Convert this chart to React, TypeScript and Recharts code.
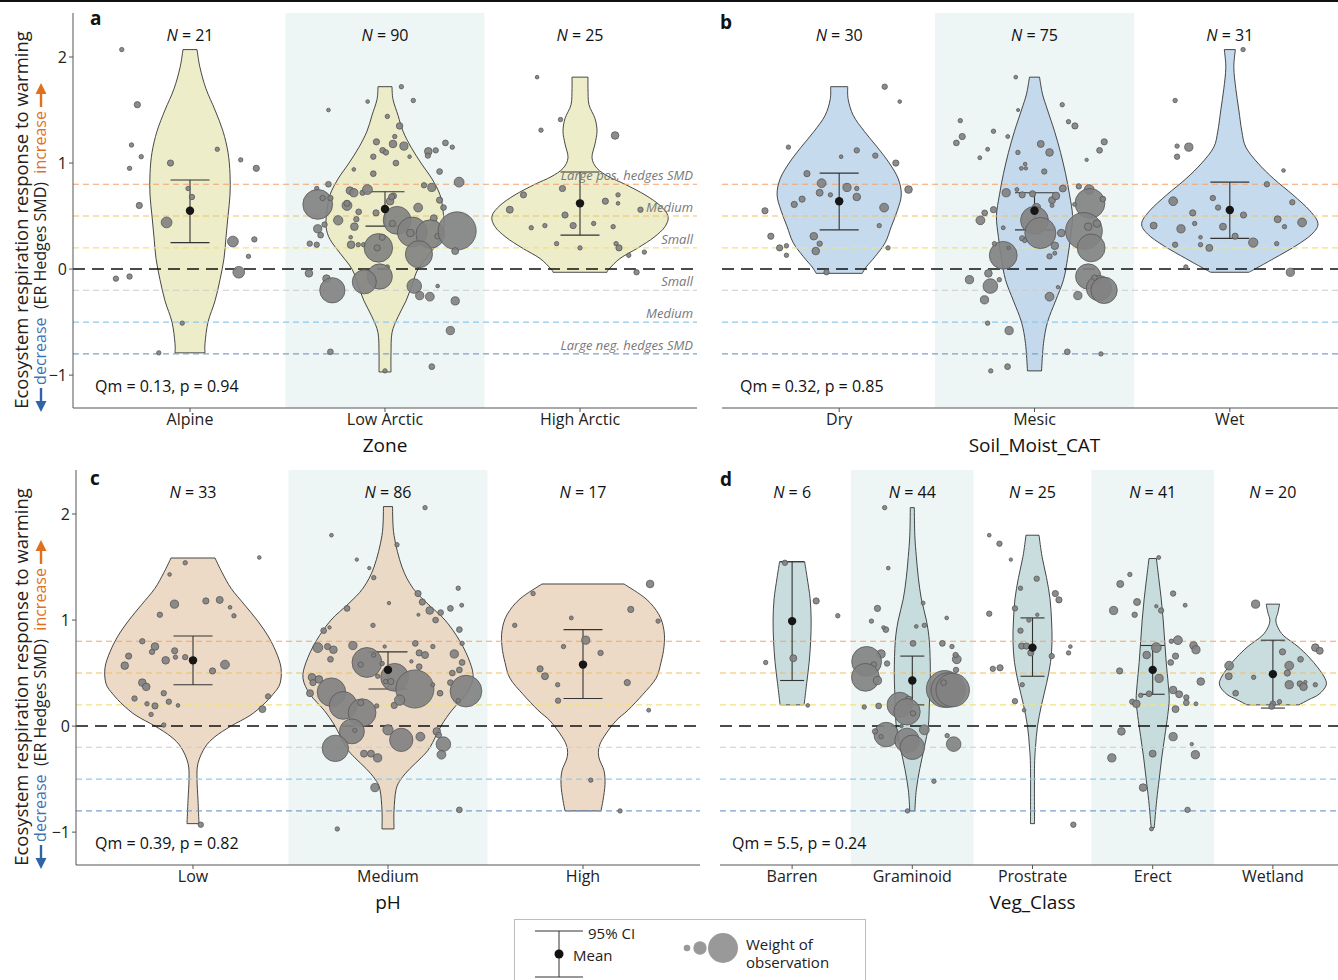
import React from 'react';
import {
  ComposedChart,
  Scatter,
  XAxis,
  YAxis,
  ZAxis,
  ReferenceLine,
  ReferenceArea,
  ErrorBar,
} from 'recharts';

const FONT = '"Open Sans", "DejaVu Sans", sans-serif';
const Y_DOMAIN: [number, number] = [-1.31, 2.415];
const N_LABEL_Y = 2.2;

// Hedges SMD guide lines
const smdLevels = [0.8, 0.5, 0.2, -0.2, -0.5, -0.8];
const smdNames = ['Large pos. hedges SMD', 'Medium', 'Small', 'Small', 'Medium', 'Large neg. hedges  SMD'];
const smdColors = ['#f2a46e', '#efc062', '#f1e27c', '#cbcbcb', '#8ec9ec', '#7f9fcb'];

// violin outlines: [value, half width] ; half width in px of the panel's category slot
type Outline = [number, number][];
// points: [jitter (category units), value, weight]
type Pt = [number, number, number];

// ---- a: Zone
const zoneCats = ['Alpine', 'Low Arctic', 'High Arctic'];
const zoneN = [21, 90, 25];
const zoneMean = [0.55, 0.566, 0.62];
const zoneLo = [0.25, 0.405, 0.32];
const zoneHi = [0.84, 0.73, 0.915];
const alpineViolin: Outline = [[2.07, 7], [1.9, 10], [1.7, 16], [1.5, 25], [1.3, 33], [1.1, 38], [0.9, 40], [0.7, 40], [0.5, 38], [0.3, 36], [0.1, 34], [-0.1, 30], [-0.3, 25], [-0.5, 18], [-0.7, 15], [-0.79, 15]];
const lowArcticViolin: Outline = [[1.72, 7], [1.6, 8], [1.45, 13], [1.3, 18], [1.15, 26], [1.0, 36], [0.85, 47], [0.7, 55], [0.55, 58], [0.4, 59], [0.28, 55], [0.15, 45], [0.0, 33], [-0.15, 27], [-0.3, 21], [-0.45, 13], [-0.6, 7], [-0.8, 6], [-0.97, 6]];
const highArcticViolin: Outline = [[1.81, 8], [1.7, 8], [1.55, 9], [1.42, 15], [1.3, 17], [1.18, 15], [1.05, 12], [0.95, 17], [0.87, 29], [0.8, 45], [0.7, 65], [0.6, 80], [0.5, 88], [0.4, 85], [0.3, 74], [0.2, 58], [0.1, 40], [0.0, 29], [-0.03, 27]];
const alpinePts: Pt[] = [[-0.35, 2.07, 1], [-0.27, 1.55, 2], [-0.3, 1.17, 1], [-0.31, 0.95, 1], [-0.25, 1.06, 1], [-0.1, 1.0, 2], [0.14, 1.13, 1], [0.26, 1.03, 1], [0.34, 0.95, 2], [-0.26, 0.6, 2], [-0.01, 0.76, 1], [0.01, 0.68, 1.5], [-0.12, 0.44, 6], [0.22, 0.26, 6], [0.33, 0.28, 1.5], [0.3, 0.12, 1], [0.25, -0.03, 7], [-0.38, -0.09, 1.5], [-0.31, -0.07, 1.5], [-0.04, -0.51, 1], [-0.16, -0.79, 1]];
const lowArcticPts: Pt[] = [[0.084, 1.72, 1], [0.145, 1.59, 1], [-0.089, 1.58, 0.7], [-0.29, 1.5, 0.7], [0.012, 1.44, 1], [0.075, 1.35, 2.2], [0.05, 1.25, 1], [-0.044, 1.2, 2], [0.041, 1.18, 3], [0.097, 1.16, 3.5], [-0.012, 1.12, 1.7], [0.005, 1.1, 1.5], [-0.06, 1.06, 1.5], [0.126, 1.06, 0.7], [0.056, 1.0, 1.7], [0.222, 1.11, 3], [0.26, 1.12, 1.5], [0.22, 1.07, 1.5], [0.31, 1.19, 1.7], [0.345, 1.15, 1], [-0.16, 0.94, 0.7], [-0.06, 0.9, 1.7], [0.28, 0.92, 1.7], [0.38, 0.82, 5], [-0.29, 0.8, 1.7], [0.2, 0.79, 1.5], [0.24, 0.77, 3.5], [-0.35, 0.76, 1], [-0.345, 0.61, 46], [-0.32, 0.67, 1.5], [-0.28, 0.67, 1.5], [-0.18, 0.74, 3], [-0.16, 0.72, 3.5], [-0.115, 0.72, 1.5], [-0.09, 0.75, 5], [-0.195, 0.6, 5], [-0.195, 0.62, 2], [-0.135, 0.54, 1.7], [-0.24, 0.46, 4.5], [-0.157, 0.4, 3], [-0.147, 0.47, 1.5], [-0.345, 0.38, 3.5], [-0.33, 0.32, 1.7], [-0.31, 0.42, 1.5], [-0.386, 0.24, 1.5], [-0.35, 0.23, 1.5], [-0.174, 0.23, 3], [-0.176, 0.3, 0.7], [-0.137, 0.23, 1], [-0.11, 0.23, 1], [-0.046, 0.53, 2], [0.026, 0.64, 3], [0.043, 0.69, 2], [0.034, 0.68, 2], [0.062, 0.46, 40], [0.038, 0.43, 2], [0.17, 0.58, 4], [0.25, 0.48, 2.5], [0.3, 0.58, 1.7], [0.28, 0.65, 2], [0.14, 0.35, 46], [0.13, 0.34, 3], [0.232, 0.33, 42], [0.27, 0.31, 1.7], [0.37, 0.36, 75], [0.36, 0.17, 2.5], [-0.034, 0.2, 42], [-0.04, 0.2, 2], [-0.014, 0.3, 2], [0.174, 0.14, 38], [0.012, 0.02, 1], [-0.027, -0.07, 33], [-0.106, -0.12, 30], [-0.3, -0.09, 3], [-0.39, -0.04, 3], [-0.27, -0.2, 33], [0.15, -0.16, 11], [0.178, -0.25, 3.5], [0.23, -0.26, 4], [0.27, -0.16, 0.7], [0.36, -0.3, 3.5], [0.335, -0.58, 3.5], [-0.28, -0.78, 1.7], [0, -0.96, 1], [0.24, -0.92, 1.7]];
const highArcticPts: Pt[] = [[-0.22, 1.81, 0.7], [-0.1, 1.41, 1], [-0.2, 1.31, 1], [0.18, 1.26, 3], [-0.29, 0.7, 2], [-0.36, 0.56, 2.5], [-0.09, 0.76, 2], [0.13, 0.64, 2], [0.195, 0.7, 1], [0.195, 0.62, 0.7], [-0.077, 0.51, 2], [0.31, 0.56, 1.5], [-0.25, 0.39, 1], [-0.18, 0.41, 1], [-0.035, 0.41, 2], [0.07, 0.43, 1], [0.17, 0.4, 1], [-0.12, 0.24, 1], [0, 0.2, 1], [0.185, 0.24, 1], [0.2, 0.2, 2], [0.25, 0.13, 1], [0.33, 0.16, 1], [0.29, -0.03, 1.5]];

// ---- b: Soil moisture
const moistCats = ['Dry', 'Mesic', 'Wet'];
const moistN = [30, 75, 31];
const moistMean = [0.64, 0.55, 0.557];
const moistLo = [0.37, 0.37, 0.29];
const moistHi = [0.905, 0.72, 0.82];
const dryViolin: Outline = [[1.72, 8.5], [1.6, 9], [1.45, 14], [1.3, 25], [1.15, 38], [1.0, 50], [0.85, 59], [0.7, 62], [0.55, 58], [0.4, 52], [0.25, 46], [0.12, 36], [0.02, 27], [-0.04, 23]];
const mesicViolin: Outline = [[1.81, 5], [1.65, 8], [1.5, 13], [1.3, 20], [1.1, 26], [0.9, 31], [0.7, 35], [0.5, 38], [0.3, 36], [0.1, 33], [-0.1, 29], [-0.3, 21], [-0.5, 13], [-0.7, 9], [-0.96, 7]];
const wetViolin: Outline = [[2.07, 5.5], [1.9, 4], [1.7, 6], [1.5, 9], [1.3, 12], [1.15, 16], [1.0, 28], [0.85, 44], [0.7, 63], [0.55, 80], [0.43, 88], [0.33, 82], [0.22, 66], [0.1, 44], [0.0, 25], [-0.03, 19]];
const dryPts: Pt[] = [[0.233, 1.72, 1.5], [0.31, 1.58, 0.7], [-0.26, 1.15, 1], [0.01, 1.06, 0.7], [0.09, 1.12, 1.5], [0.185, 1.07, 1.5], [0.29, 1.0, 2], [-0.165, 0.9, 2], [-0.09, 0.81, 4], [0.04, 0.77, 3.5], [0.09, 0.76, 1], [-0.1, 0.72, 2.5], [-0.045, 0.7, 1], [0.09, 0.68, 3], [0.355, 0.75, 3], [-0.19, 0.66, 2], [-0.23, 0.61, 2], [0.23, 0.58, 4], [-0.38, 0.55, 2], [0.205, 0.41, 1], [-0.35, 0.31, 2], [-0.13, 0.31, 3], [-0.305, 0.2, 2], [-0.27, 0.22, 1], [-0.1, 0.24, 1.5], [-0.12, 0.17, 3], [-0.27, 0.13, 1], [0.25, 0.2, 1], [-0.065, -0.03, 1.5]];
const mesicPts: Pt[] = [[-0.096, 1.81, 0.7], [0.142, 1.55, 1], [0.174, 1.39, 1], [0.207, 1.35, 2], [-0.084, 1.5, 0.5], [-0.38, 1.4, 1], [-0.37, 1.25, 2], [-0.4, 1.19, 1.7], [-0.21, 1.3, 1], [-0.24, 1.13, 0.8], [-0.28, 1.05, 0.8], [-0.137, 1.25, 0.8], [-0.085, 1.1, 1], [0.032, 1.18, 2.5], [0.077, 1.1, 3], [-0.048, 0.99, 0.7], [-0.067, 0.95, 0.8], [-0.044, 0.95, 0.6], [0.05, 0.92, 1.5], [0.357, 1.2, 2], [0.333, 1.12, 1.7], [0.267, 1.03, 0.6], [-0.145, 0.72, 3.5], [-0.09, 0.75, 0.8], [-0.063, 0.7, 2], [-0.01, 0.71, 2], [0.09, 0.65, 2.5], [0.11, 0.69, 3], [0.09, 0.6, 0.8], [0.145, 0.76, 2.5], [0.227, 0.78, 1.5], [0.28, 0.75, 5], [0.284, 0.62, 46], [0.35, 0.66, 1.7], [0.205, 0.61, 0.8], [0.01, 0.58, 3.5], [0, 0.46, 40], [0.03, 0.34, 50], [-0.21, 0.56, 2], [-0.255, 0.53, 1.7], [-0.277, 0.46, 4], [-0.16, 0.39, 0.8], [0.137, 0.34, 3], [0.253, 0.36, 70], [0.32, 0.43, 3], [0.275, 0.4, 3], [0.29, 0.2, 40], [-0.063, 0.29, 1.5], [-0.05, 0.27, 1], [0.104, 0.22, 3], [0.104, 0.15, 0.8], [0.077, 0.12, 1.5], [-0.16, 0.13, 40], [-0.205, 0.24, 1], [-0.133, 0.2, 0.6], [-0.236, -0.04, 3], [-0.18, -0.1, 1], [-0.333, -0.1, 3.5], [-0.226, -0.16, 11], [-0.256, -0.29, 3.5], [0.275, -0.07, 33], [0.33, -0.18, 33], [0.356, -0.2, 36], [0.307, -0.08, 1.5], [0.222, -0.25, 3.5], [0.077, -0.26, 4], [0.12, -0.17, 0.6], [-0.24, -0.51, 1], [-0.13, -0.58, 3.5], [0.168, -0.78, 1.7], [0.34, -0.8, 1], [-0.224, -0.96, 1], [-0.138, -0.92, 1.7]];
const wetPts: Pt[] = [[0.068, 2.07, 1], [-0.28, 1.59, 1], [-0.27, 1.16, 1], [-0.21, 1.15, 3.5], [-0.27, 1.06, 1.5], [0.275, 0.93, 0.7], [0.19, 0.8, 1.5], [-0.29, 0.64, 4], [-0.087, 0.67, 1.5], [-0.06, 0.58, 1.5], [0.07, 0.51, 2], [0.32, 0.63, 1.5], [-0.19, 0.53, 2], [-0.18, 0.43, 1], [-0.39, 0.41, 2.5], [-0.25, 0.38, 3.5], [-0.035, 0.4, 2.5], [0.245, 0.47, 2.5], [0.28, 0.4, 1], [0.37, 0.44, 4], [0.027, 0.31, 2], [0.12, 0.25, 4.5], [-0.15, 0.3, 0.7], [-0.28, 0.23, 1.5], [-0.15, 0.23, 1], [-0.105, 0.2, 2.5], [0.24, 0.24, 1], [-0.225, 0.02, 1], [0.31, -0.03, 3.5]];

// ---- c: pH
const phCats = ['Low', 'Medium', 'High'];
const phN = [33, 86, 17];
const phMean = [0.62, 0.53, 0.58];
const phLo = [0.39, 0.35, 0.26];
const phHi = [0.85, 0.7, 0.91];
const lowViolin: Outline = [[1.585, 22], [1.45, 29], [1.3, 38], [1.15, 51], [1.0, 64], [0.85, 75], [0.7, 83], [0.55, 88], [0.4, 87], [0.3, 80], [0.2, 70], [0.1, 57], [0.0, 38], [-0.1, 22], [-0.2, 12], [-0.35, 5], [-0.5, 4], [-0.7, 5], [-0.92, 6]];
const mediumViolin: Outline = [[2.07, 4.5], [1.8, 6], [1.5, 14], [1.3, 25], [1.15, 40], [1.0, 57], [0.8, 72], [0.6, 82], [0.45, 85], [0.3, 78], [0.15, 64], [0.0, 53], [-0.2, 42], [-0.3, 33], [-0.4, 22], [-0.5, 13], [-0.6, 8], [-0.8, 6], [-0.97, 6]];
const highViolin: Outline = [[1.34, 41], [1.2, 63], [1.05, 76], [0.9, 81], [0.75, 81], [0.6, 78], [0.45, 73], [0.3, 60], [0.15, 45], [0.05, 33], [-0.1, 21], [-0.2, 16], [-0.3, 16], [-0.42, 21], [-0.55, 22], [-0.7, 20], [-0.8, 18]];
const lowPts: Pt[] = [[-0.04, 1.54, 1], [-0.12, 1.43, 0.7], [0.34, 1.59, 0.7], [-0.095, 1.15, 3.5], [0.066, 1.18, 2], [0.137, 1.19, 2.5], [0.19, 1.12, 0.7], [0.21, 1.04, 1], [-0.17, 1.05, 1.5], [-0.26, 0.8, 1.5], [-0.195, 0.75, 3], [-0.21, 0.7, 1.5], [-0.33, 0.66, 2], [-0.094, 0.71, 2], [-0.09, 0.65, 1], [-0.04, 0.65, 1.5], [-0.14, 0.62, 3], [-0.35, 0.57, 3], [0.164, 0.58, 4], [0.1, 0.52, 2], [-0.26, 0.41, 3], [-0.24, 0.37, 3], [-0.15, 0.31, 1.5], [-0.3, 0.26, 1.5], [-0.124, 0.23, 1.5], [-0.236, 0.21, 1], [-0.195, 0.19, 2], [-0.077, 0.195, 0.7], [-0.215, 0.11, 1], [-0.15, 0.01, 1], [0.385, 0.28, 1.5], [0.356, 0.16, 2.5], [0.04, -0.93, 1.5]];
const mediumPts: Pt[] = [[0.19, 2.06, 1], [-0.29, 1.8, 0.7], [0.046, 1.71, 1], [-0.16, 1.57, 0.6], [-0.096, 1.49, 0.6], [-0.073, 1.4, 1], [0.154, 1.25, 2], [0.176, 1.17, 2], [0.214, 1.09, 3], [0.244, 1.0, 1.7], [0.27, 1.07, 1.7], [0.32, 1.11, 1.7], [0.36, 1.3, 1], [0.378, 1.14, 0.8], [0.005, 1.16, 0.6], [-0.21, 1.11, 1.7], [0.156, 1.05, 0.5], [-0.077, 0.95, 1], [-0.33, 0.9, 1.7], [-0.3, 0.93, 0.6], [0.366, 0.91, 1.7], [0.38, 0.78, 1], [-0.36, 0.74, 5], [-0.31, 0.75, 2], [-0.28, 0.72, 3], [-0.295, 0.63, 1.7], [-0.18, 0.76, 3.5], [-0.017, 0.75, 0.6], [0.14, 0.78, 1.7], [0.16, 0.69, 2], [0.19, 0.67, 2.5], [0.23, 0.75, 1], [0.34, 0.68, 3.5], [0.38, 0.6, 1.7], [0.366, 0.53, 1.7], [0.33, 0.5, 1.7], [-0.108, 0.6, 46], [-0.073, 0.67, 1], [-0.03, 0.59, 1], [-0.14, 0.58, 1.5], [0.034, 0.46, 40], [0.015, 0.42, 2], [-0.012, 0.42, 1], [-0.053, 0.47, 1], [0.138, 0.35, 75], [0.16, 0.56, 1.7], [0.12, 0.61, 0.6], [0.23, 0.39, 0.8], [0.267, 0.31, 1.7], [0.32, 0.41, 1.7], [0.4, 0.33, 52], [0.36, 0.24, 1], [-0.39, 0.46, 3], [-0.385, 0.41, 2], [-0.354, 0.44, 3], [-0.4, 0.31, 2.5], [-0.29, 0.32, 42], [-0.23, 0.195, 40], [-0.133, 0.126, 40], [-0.14, 0.22, 2], [-0.058, 0.19, 1], [0.032, 0.195, 2], [0.06, 0.245, 5.5], [-0.185, -0.05, 32], [-0.17, -0.04, 1], [-0.27, -0.21, 36], [0, -0.035, 5.5], [0.068, -0.13, 28], [0.166, -0.1, 4], [0.25, -0.05, 3], [0.26, -0.085, 1.7], [0.284, -0.17, 11], [0.274, -0.27, 4], [-0.123, -0.26, 2.5], [-0.087, -0.26, 2.5], [-0.053, -0.3, 3.5], [-0.067, -0.58, 3.5], [0.366, -0.79, 1.7], [-0.26, -0.97, 1]];
const highPts: Pt[] = [[0.344, 1.34, 3], [-0.256, 1.25, 1], [0.245, 1.1, 2], [-0.06, 1.02, 0.8], [-0.35, 0.95, 1], [0.385, 0.99, 1], [0.014, 0.81, 3.5], [-0.1, 0.75, 1], [0.09, 0.69, 1.5], [-0.22, 0.54, 2], [-0.195, 0.47, 2.5], [-0.13, 0.39, 1], [0.227, 0.41, 2], [-0.128, 0.24, 1.5], [0.337, 0.15, 0.8], [0.04, -0.51, 1], [0.19, -0.8, 1]];

// ---- d: Vegetation class
const vegCats = ['Barren', 'Graminoid', 'Prostrate', 'Erect', 'Wetland'];
const vegN = [6, 44, 25, 41, 20];
const vegMean = [0.99, 0.43, 0.74, 0.53, 0.49];
const vegLo = [0.43, 0.2, 0.47, 0.3, 0.17];
const vegHi = [1.55, 0.66, 1.02, 0.76, 0.81];
const barrenViolin: Outline = [[1.55, 12.5], [1.4, 15], [1.2, 18], [1.0, 19], [0.8, 18.5], [0.6, 17], [0.4, 14.5], [0.2, 12]];
const graminoidViolin: Outline = [[2.06, 2], [1.8, 2.5], [1.6, 4], [1.4, 6], [1.2, 9], [1.0, 14], [0.8, 17], [0.5, 18], [0.2, 17], [0.0, 16], [-0.2, 12], [-0.4, 7.5], [-0.6, 4], [-0.8, 2.5]];
const prostrateViolin: Outline = [[1.8, 6.5], [1.6, 9.5], [1.4, 14], [1.2, 17.5], [1.0, 19], [0.8, 19.5], [0.6, 18], [0.4, 14], [0.2, 9], [0.0, 5], [-0.2, 3], [-0.4, 2], [-0.92, 2]];
const erectViolin: Outline = [[1.58, 3.7], [1.4, 6], [1.2, 8.5], [1.0, 10.5], [0.8, 12], [0.6, 13.5], [0.4, 15.5], [0.25, 16.5], [0.1, 15], [-0.1, 12], [-0.3, 9], [-0.5, 6.5], [-0.7, 4], [-0.96, 1.5]];
const wetlandViolin: Outline = [[1.15, 6.7], [1.07, 5], [1.0, 3], [0.93, 5], [0.85, 11], [0.75, 25], [0.65, 36], [0.55, 45], [0.45, 52], [0.38, 53], [0.3, 46], [0.25, 36], [0.2, 26]];
const barrenPts: Pt[] = [[-0.06, 1.54, 1.5], [0.2, 1.18, 2], [-0.22, 0.6, 1], [0.01, 0.64, 2.5], [0.38, 1.04, 1], [0.13, 0.195, 0.7]];
const graminoidPts: Pt[] = [[-0.23, 2.06, 1], [-0.2, 1.49, 0.7], [-0.29, 1.11, 2], [-0.34, 0.99, 1], [-0.22, 0.91, 1.7], [-0.24, 0.93, 0.7], [0.09, 1.16, 0.8], [0.1, 0.95, 1], [0.033, 0.94, 0.7], [0.006, 0.78, 1.7], [0.286, 1.02, 0.7], [0.25, 0.78, 1.7], [0.33, 0.75, 1], [0.37, 0.63, 4], [0.36, 0.67, 1.5], [0.364, 0.53, 1.5], [-0.21, 0.59, 1.5], [-0.26, 0.68, 3.5], [-0.38, 0.61, 46], [-0.32, 0.58, 1.7], [-0.39, 0.46, 40], [-0.29, 0.43, 3.5], [-0.4, 0.18, 1], [-0.28, 0.19, 1.7], [0.27, 0.35, 70], [0.3, 0.34, 62], [0.336, 0.34, 58], [0.26, 0.41, 1.7], [-0.105, 0.2, 33], [-0.03, 0.25, 2.5], [-0.044, 0.135, 36], [0.006, 0.12, 1.5], [-0.217, -0.08, 31], [-0.31, -0.05, 1.5], [-0.26, -0.1, 1], [-0.044, -0.135, 31], [0, -0.2, 31], [0.1, -0.035, 5], [-0.09, 0, 0.6], [0.29, -0.09, 1], [0.344, -0.17, 11], [0.18, -0.52, 1], [-0.04, -0.8, 1]];
const prostratePts: Pt[] = [[-0.36, 1.8, 0.7], [-0.275, 1.72, 1.5], [-0.18, 1.57, 0.6], [0.035, 1.39, 1.5], [-0.1, 1.3, 1], [0.19, 1.25, 2], [0.22, 1.19, 2], [-0.146, 1.11, 1.5], [-0.36, 1.06, 1.5], [0.04, 1.05, 0.6], [-0.03, 1.0, 1], [-0.1, 0.9, 1.5], [-0.09, 0.755, 2], [-0.05, 0.755, 2], [-0.014, 0.69, 2], [0.16, 0.66, 1.5], [0.315, 0.75, 0.7], [0.3, 0.69, 1], [-0.33, 0.54, 1.5], [-0.27, 0.55, 2], [-0.085, 0.39, 1], [-0.146, 0.235, 1.5], [-0.07, 0.15, 0.7], [0.34, -0.93, 1.5]];
const erectPts: Pt[] = [[0.05, 1.59, 0.8], [-0.19, 1.43, 1], [-0.27, 1.34, 2.5], [-0.13, 1.17, 2.5], [-0.325, 1.09, 3.5], [-0.15, 1.05, 1.5], [0.17, 1.25, 1.5], [0.27, 1.14, 0.8], [0.07, 1.09, 1.5], [0.03, 1.13, 0.6], [0.155, 0.8, 1], [0.21, 0.81, 4], [0.03, 0.74, 5], [-0.05, 0.67, 3], [0.19, 0.66, 2], [0.34, 0.76, 3], [0.36, 0.72, 3.5], [0.15, 0.6, 1.7], [-0.275, 0.52, 2], [0.053, 0.45, 3.5], [0.4, 0.42, 3], [0.17, 0.34, 3], [0.22, 0.3, 2.5], [-0.03, 0.305, 1.7], [-0.1, 0.29, 1], [-0.17, 0.23, 1.5], [-0.136, 0.21, 3], [0.28, 0.27, 1.5], [0.28, 0.22, 1.7], [0.36, 0.21, 0.8], [0.19, 0.16, 2.5], [-0.26, -0.05, 3], [0.17, -0.1, 3.5], [0.325, -0.17, 0.6], [0.355, -0.27, 3.5], [0, -0.26, 2.5], [-0.34, -0.3, 3.5], [-0.08, -0.58, 3], [0.29, -0.79, 1.5], [-0.01, -0.97, 0.8]];
const wetlandPts: Pt[] = [[-0.144, 1.15, 3.5], [0.353, 0.74, 3], [0.39, 0.71, 2.5], [0.08, 0.7, 2], [-0.364, 0.57, 4], [-0.367, 0.47, 2.5], [-0.16, 0.46, 1], [0.23, 0.63, 1.7], [0.136, 0.57, 4], [0.12, 0.5, 2], [0.136, 0.39, 3.5], [0.225, 0.4, 1.7], [0.255, 0.37, 3], [0.27, 0.415, 0.6], [0.353, 0.39, 1], [-0.31, 0.31, 1.7], [0.055, 0.23, 1], [0, 0.21, 1.7], [-0.01, 0.185, 1.7]];

// ---------- helpers
type XY = { x: number; y: number };

function spline(p: XY[]) {
  let d = '';
  for (let i = 0; i < p.length - 1; i++) {
    const p0 = p[i - 1] || p[i];
    const p1 = p[i];
    const p2 = p[i + 1];
    const p3 = p[i + 2] || p2;
    const c1x = p1.x + (p2.x - p0.x) / 6;
    const c1y = p1.y + (p2.y - p0.y) / 6;
    const c2x = p2.x - (p3.x - p1.x) / 6;
    const c2y = p2.y - (p3.y - p1.y) / 6;
    d += ` C${c1x},${c1y} ${c2x},${c2y} ${p2.x},${p2.y}`;
  }
  return d;
}

function violinData(c: number, outline: Outline, slot: number) {
  const right = outline.map(([y, w]) => ({ x: c + w / slot, y }));
  const left = outline.slice().reverse().map(([y, w]) => ({ x: c - w / slot, y }));
  return [...right, ...left];
}

const violinPath = (fill: string) => (props: any) => {
  const pts: XY[] = props.points || [];
  if (pts.length < 4) return <g />;
  const n = pts.length / 2;
  const a = pts.slice(0, n);
  const b = pts.slice(n);
  const d = `M${a[0].x},${a[0].y}` + spline(a) + ` L${b[0].x},${b[0].y}` + spline(b) + ' Z';
  return <path d={d} fill={fill} fillOpacity={0.85} stroke="#333" strokeWidth={0.9} />;
};

const blank = () => <g />;
const meanDot = (p: any) => <circle cx={p.cx} cy={p.cy} r={4.2} fill="#161616" />;
const nLabel = (p: any) => (
  <text x={p.cx} y={p.cy} dy="0.35em" textAnchor="middle" fontSize={16} fill="#111">
    <tspan fontStyle="italic">N</tspan>
    {' = ' + p.payload.n}
  </text>
);
const minus = (v: number) => (v < 0 ? '\u2212' + Math.abs(v) : String(v));

type PanelProps = {
  left: number;
  top: number;
  width: number;
  yWidth: number;
  slot: number;
  cats: string[];
  n: number[];
  mean: number[];
  lo: number[];
  hi: number[];
  violins: Outline[];
  points: Pt[][];
  shade: number[];
  fill: string;
  title: string;
  guideLabels?: boolean;
};

function Panel(p: PanelProps) {
  const k = p.cats.length;
  const pts = p.points.flatMap((list, i) => list.map(([dx, y, w]) => ({ x: i + 1 + dx, y, w })));
  const means = p.cats.map((_, i) => ({ x: i + 1, y: p.mean[i], err: [p.mean[i] - p.lo[i], p.hi[i] - p.mean[i]] }));
  const heads = p.cats.map((_, i) => ({ x: i + 1, y: N_LABEL_Y, n: p.n[i] }));
  const ticks = p.cats.map((_, i) => i + 1);
  return (
    <div style={{ position: 'absolute', left: p.left, top: p.top }}>
      <ComposedChart width={p.width} height={460} margin={{ top: 13, right: 3, bottom: 0, left: 0 }}>
        <XAxis
          type="number"
          dataKey="x"
          domain={[0.4, k + 0.6]}
          ticks={ticks}
          interval={0}
          allowDataOverflow
          tickFormatter={(v: number) => p.cats[Math.round(v) - 1]}
          tick={{ fill: '#222', fontSize: 16 }}
          tickSize={4}
          tickMargin={2}
          axisLine={{ stroke: '#555' }}
          tickLine={{ stroke: '#555' }}
          height={52}
          label={{ value: p.title, position: 'insideBottom', offset: 8, fontSize: 19, fill: '#111' }}
        />
        {p.yWidth > 0 ? (
          <YAxis
            type="number"
            dataKey="y"
            domain={Y_DOMAIN}
            ticks={[-1, 0, 1, 2]}
            allowDataOverflow
            width={p.yWidth}
            tickFormatter={minus}
            tick={{ fill: '#222', fontSize: 16 }}
            tickSize={4}
            axisLine={{ stroke: '#555' }}
            tickLine={{ stroke: '#555' }}
          />
        ) : (
          <YAxis type="number" dataKey="y" domain={Y_DOMAIN} allowDataOverflow hide />
        )}
        <ZAxis type="number" dataKey="w" domain={[0, 100]} range={[0, 1520]} />
        {p.shade.map((i) => (
          <ReferenceArea key={'s' + i} x1={i + 1 - 0.51} x2={i + 1 + 0.51} fill="#eef5f5" fillOpacity={1} strokeOpacity={0} zIndex={-50} />
        ))}
        {p.violins.map((o, i) => (
          <Scatter
            key={'v' + i}
            data={violinData(i + 1, o, p.slot)}
            line={violinPath(p.fill)}
            shape={blank}
            isAnimationActive={false}
            legendType="none"
            zIndex={300}
          />
        ))}
        {smdLevels.map((v, i) => (
          <ReferenceLine
            key={'g' + i}
            y={v}
            stroke={smdColors[i]}
            strokeDasharray="6 4"
            strokeWidth={1.1}
            zIndex={400}
            label={
              p.guideLabels
                ? { value: smdNames[i], position: 'insideBottomRight', offset: 4, fill: '#777', fontSize: 13, fontStyle: 'italic' }
                : undefined
            }
          />
        ))}
        <ReferenceLine y={0} stroke="#111" strokeDasharray="12 7" strokeWidth={1.5} zIndex={400} />
        <Scatter
          data={pts}
          shape="circle"
          fill="#828282"
          fillOpacity={0.92}
          stroke="#585858"
          strokeWidth={0.8}
          isAnimationActive={false}
          zIndex={600}
        />
        <Scatter data={means} shape={meanDot} isAnimationActive={false} zIndex={700}>
          <ErrorBar dataKey="err" direction="y" width={p.slot * 0.1} stroke="#333" strokeWidth={1.1} isAnimationActive={false} />
        </Scatter>
        <Scatter data={heads} shape={nLabel} isAnimationActive={false} zIndex={700} />
      </ComposedChart>
    </div>
  );
}

function YLabel({ dy }: { dy: number }) {
  return (
    <g transform={`translate(0,${dy})`}>
      <text transform="translate(28,220) rotate(-90)" textAnchor="middle" fontSize={18.5} fill="#222">
        Ecosystem respiration response to warming
      </text>
      <text transform="translate(46,248) rotate(-90)" textAnchor="middle" fontSize={16} style={{ whiteSpace: 'pre' }}>
        <tspan fill="#3f72b4">decrease</tspan>
        <tspan fill="#222">{'  (ER Hedges SMD)  '}</tspan>
        <tspan fill="#e0701e">increase</tspan>
      </text>
      <line x1={41} x2={41} y1={107} y2={92} stroke="#e0701e" strokeWidth={2.4} />
      <polygon points="41,83 35.5,94 46.5,94" fill="#e0701e" />
      <line x1={41} x2={41} y1={388} y2={402} stroke="#2f64a8" strokeWidth={2.4} />
      <polygon points="41,412 35.5,401 46.5,401" fill="#2f64a8" />
    </g>
  );
}

export default function App() {
  return (
    <div style={{ position: 'fixed', left: 0, top: 0, width: 1338, height: 980, overflow: 'hidden', background: '#fff', fontFamily: FONT }}>
      <Panel
        left={0} top={0} width={700} yWidth={73} slot={195}
        cats={zoneCats} n={zoneN} mean={zoneMean} lo={zoneLo} hi={zoneHi}
        violins={[alpineViolin, lowArcticViolin, highArcticViolin]}
        points={[alpinePts, lowArcticPts, highArcticPts]}
        shade={[1]} fill="#ebeac0" title="Zone" guideLabels
      />
      <Panel
        left={722} top={0} width={628} yWidth={0} slot={195}
        cats={moistCats} n={moistN} mean={moistMean} lo={moistLo} hi={moistHi}
        violins={[dryViolin, mesicViolin, wetViolin]}
        points={[dryPts, mesicPts, wetPts]}
        shade={[1]} fill="#bcd4ea" title="Soil_Moist_CAT"
      />
      <Panel
        left={0} top={457} width={703} yWidth={76} slot={195}
        cats={phCats} n={phN} mean={phMean} lo={phLo} hi={phHi}
        violins={[lowViolin, mediumViolin, highViolin]}
        points={[lowPts, mediumPts, highPts]}
        shade={[1]} fill="#e9d3bc" title="pH"
      />
      <Panel
        left={720} top={457} width={628} yWidth={0} slot={120}
        cats={vegCats} n={vegN} mean={vegMean} lo={vegLo} hi={vegHi}
        violins={[barrenViolin, graminoidViolin, prostrateViolin, erectViolin, wetlandViolin]}
        points={[barrenPts, graminoidPts, prostratePts, erectPts, wetlandPts]}
        shade={[1, 3]} fill="#c0d7d8" title="Veg_Class"
      />
      <svg width={1338} height={980} style={{ position: 'absolute', left: 0, top: 0, pointerEvents: 'none', fontFamily: FONT }}>
        <rect x={0} y={0} width={1338} height={2} fill="#111" />
        <YLabel dy={0} />
        <YLabel dy={457} />
        <g fontWeight="bold" fontSize={19} fill="#111">
          <text x={90} y={25}>a</text>
          <text x={720} y={29}>b</text>
          <text x={90} y={485}>c</text>
          <text x={720} y={486}>d</text>
        </g>
        <g fontSize={16} fill="#111" style={{ whiteSpace: 'pre' }}>
          <text x={95} y={392}>{'Qm = 0.13,  p = 0.94'}</text>
          <text x={740} y={392}>{'Qm = 0.32,  p = 0.85'}</text>
          <text x={95} y={849}>{'Qm = 0.39,  p = 0.82'}</text>
          <text x={732} y={849}>{'Qm = 5.5,  p = 0.24'}</text>
        </g>
        <g>
          <rect x={514.5} y={919.5} width={351} height={80} fill="#fff" stroke="#bdbdbd" />
          <line x1={535} x2={583} y1={931} y2={931} stroke="#333" />
          <line x1={559} x2={559} y1={931} y2={977} stroke="#333" />
          <line x1={535} x2={583} y1={977} y2={977} stroke="#333" />
          <circle cx={559} cy={954} r={4.5} fill="#111" />
          <text x={588} y={939} fontSize={15} fill="#222">95% CI</text>
          <text x={573} y={961} fontSize={15} fill="#222">Mean</text>
          <circle cx={687} cy={948} r={3.3} fill="#999" />
          <circle cx={700} cy={948} r={6.7} fill="#999" />
          <circle cx={723} cy={948} r={15} fill="#999" />
          <text x={746} y={950} fontSize={15} fill="#222">Weight of</text>
          <text x={746} y={968} fontSize={15} fill="#222">observation</text>
        </g>
      </svg>
    </div>
  );
}
